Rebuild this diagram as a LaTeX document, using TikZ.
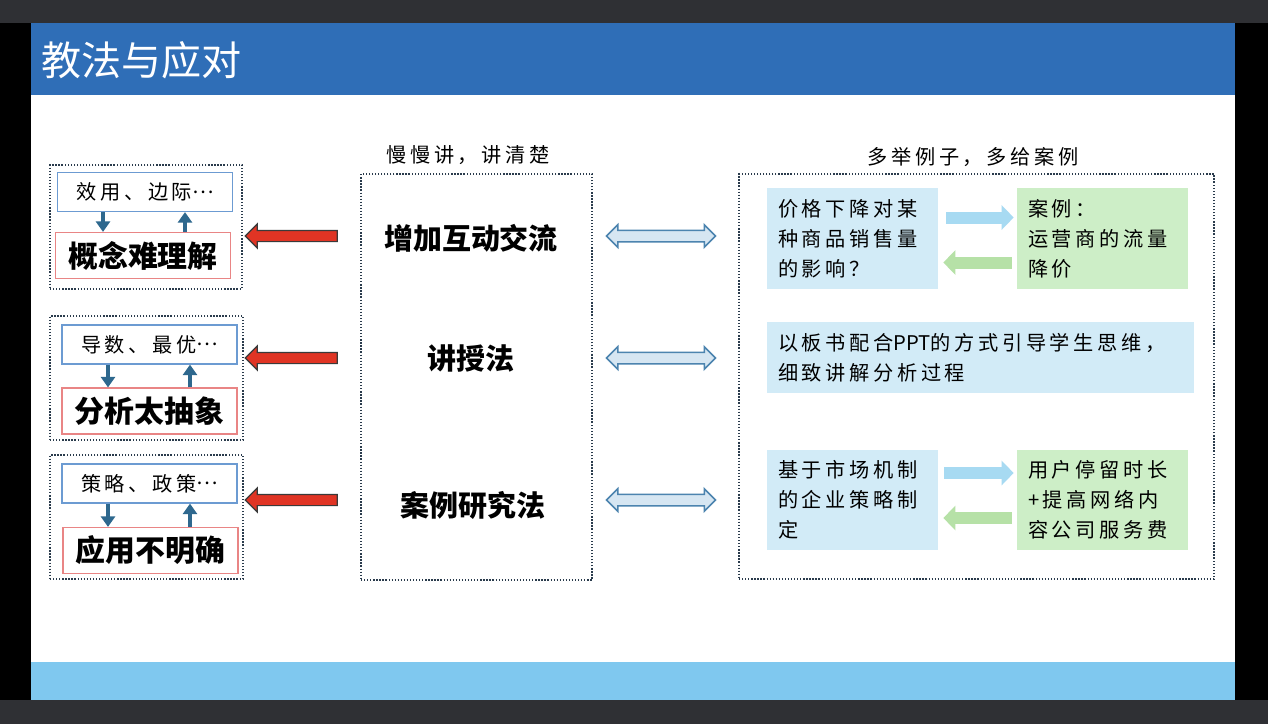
\documentclass[tikz,border=0pt]{standalone}
\usepackage{fontspec}
\usepackage{tikz}
\usetikzlibrary{arrows.meta,shapes.arrows}
\newfontfamily\cjk{Noto Sans CJK SC}
\newfontfamily\cjkwide[LetterSpace=18]{Noto Sans CJK SC}
\newlength\px
\setlength\px{0.02cm}
\newcommand\middots{\raisebox{0.32em}{…}}
\definecolor{framegray}{HTML}{2F3034}
\definecolor{titleblue}{HTML}{2F6EB7}
\definecolor{bandblue}{HTML}{7FC8EF}
\definecolor{dotline}{HTML}{2A3B4C}
\definecolor{termline}{HTML}{6C9BD2}
\definecolor{hardline}{HTML}{E98585}
\definecolor{stemblue}{HTML}{2E688E}
\definecolor{alertred}{HTML}{E03424}
\definecolor{arrowedge}{HTML}{3A3A3A}
\definecolor{dualfill}{HTML}{D6E6F2}
\definecolor{dualedge}{HTML}{4C84AF}
\definecolor{qblue}{HTML}{D2EBF7}
\definecolor{cgreen}{HTML}{CDEEC7}
\definecolor{pushblue}{HTML}{A7DAF2}
\definecolor{pullgreen}{HTML}{B6E1A7}

\begin{document}
\begin{tikzpicture}[x=0.02cm, y=-0.02cm, font=\cjk,
    grpbox/.style={draw=dotline, densely dotted, line width=1.3\px, inner sep=0pt},
    termbox/.style={draw=termline, line width=1.2\px, fill=white, minimum width=175\px, minimum height=39\px, inner sep=0pt, font=\cjkwide\fontsize{11.5}{14}\selectfont},
    hardbox/.style={draw=hardline, line width=1.2\px, fill=white, minimum width=175\px, minimum height=46\px, inner sep=0pt, font=\cjk\bfseries\fontsize{17}{20}\selectfont},
    stem/.style={draw=stemblue, line width=4\px, -{Triangle[length=6pt,width=8pt]}},
    notetext/.style={inner sep=0pt, font=\cjkwide\fontsize{11.5}{14}\selectfont},
    methodtext/.style={inner sep=0pt, font=\cjk\bfseries\fontsize{16.5}{20}\selectfont},
    redarrow/.style={single arrow, shape border rotate=180, draw=arrowedge, fill=alertred, line width=1.2\px, minimum height=92\px, inner sep=5\px, single arrow head extend=6.5\px},
    dualarrow/.style={double arrow, draw=dualedge, fill=dualfill, line width=1.5\px, minimum height=109\px, inner sep=5\px, double arrow head extend=5.5\px},
    casebox/.style={fill=#1, minimum width=171\px, minimum height=99\px, text width=149\px, inner sep=11\px, align=left, font=\cjkwide\fontsize{11.5}{17}\selectfont},
    push/.style={draw=pushblue, line width=12\px, -{Triangle[length=6.8pt,width=13.6pt]}},
    pull/.style={draw=pullgreen, line width=12\px, -{Triangle[length=6.8pt,width=13.6pt]}}]

    \fill[framegray] (0,0) rectangle (1268,724);
    \fill[black] (0,23) rectangle (1268,700);
    \fill[white] (31,23) rectangle (1235,700);
    \fill[titleblue] (31,23) rectangle (1235,95);
    \fill[bandblue] (31,662) rectangle (1235,700);
    \node[anchor=west, inner sep=0pt, text=white, font=\cjk\fontsize{22.8}{26}\selectfont] (title) at (41,60) {教法与应对};

    \node[grpbox, minimum width=192\px, minimum height=124\px] (g1) at (146,227) {};
    \node[termbox] (t1) at (145,192) {效用、边际\middots};
    \node[hardbox] (h1) at (143,255.5) {概念难理解};
    \draw[stem] ([xshift=-42\px]t1.south) -- ([xshift=-40\px]h1.north);
    \draw[stem] ([xshift=42\px]h1.north) -- ([xshift=40\px]t1.south);

    \node[grpbox, minimum width=193\px, minimum height=124\px] (g2) at (146.5,378) {};
    \node[termbox] (t2) at (149.5,344.5) {导数、最优\middots};
    \node[hardbox] (h2) at (149.5,411) {分析太抽象};
    \draw[stem] ([xshift=-41.5\px]t2.south) -- ([xshift=-41.5\px]h2.north);
    \draw[stem] ([xshift=40.5\px]h2.north) -- ([xshift=40.5\px]t2.south);

    \node[grpbox, minimum width=193\px, minimum height=124\px] (g3) at (146.5,517) {};
    \node[termbox] (t3) at (149.5,483.5) {策略、政策\middots};
    \node[hardbox] (h3) at (150.5,550.5) {应用不明确};
    \draw[stem] ([xshift=-41.5\px]t3.south) -- ([xshift=-42.5\px]h3.north);
    \draw[stem] ([xshift=39.5\px]h3.north) -- ([xshift=40.5\px]t3.south);

    \node[redarrow] (ra1) at (294,236) {};
    \node[redarrow] (ra2) at (294,358) {};
    \node[redarrow] (ra3) at (294,500) {};

    \node[grpbox, minimum width=231\px, minimum height=406\px] (mid) at (476.5,377) {};
    \node[notetext] (midnote) at (468,155) {慢慢讲，讲清楚};
    \node[methodtext] (m1) at (471,238) {增加互动交流};
    \node[methodtext] (m2) at (471,358) {讲授法};
    \node[methodtext] (m3) at (473,505) {案例研究法};

    \node[dualarrow] (da1) at (661,236) {};
    \node[dualarrow] (da2) at (661,358) {};
    \node[dualarrow] (da3) at (661,500) {};

    \node[grpbox, minimum width=475\px, minimum height=405\px] (side) at (976.5,376.5) {};
    \node[notetext] (sidenote) at (973,157) {多举例子，多给案例};

    \node[casebox=qblue] (q1) at (852.5,238.5) {价格下降对某\\种商品销售量\\的影响？};
    \node[casebox=cgreen] (c1) at (1102.5,238.5) {案例：\\运营商的流量\\降价};
    \draw[push, shorten <=8\px, shorten >=3\px] ([yshift=21\px]q1.east) -- ([yshift=21\px]c1.west);
    \draw[pull, shorten <=5\px, shorten >=5\px] ([yshift=-24\px]c1.west) -- ([yshift=-24\px]q1.east);

    \node[casebox=qblue, minimum width=427\px, minimum height=69\px, text width=405\px] (p2) at (980.5,357.5) {以板书配合{\cjk\fontsize{11.5}{17}\selectfont PPT}的方式引导学生思维，\\细致讲解分析过程};

    \node[casebox=qblue, minimum height=100\px] (q3) at (852.5,500) {基于市场机制\\的企业策略制\\定};
    \node[casebox=cgreen, minimum height=100\px] (c3) at (1102.5,500) {用户停留时长\\+提高网络内\\容公司服务费};
    \draw[push, shorten <=6\px, shorten >=3\px] ([yshift=27\px]q3.east) -- ([yshift=27\px]c3.west);
    \draw[pull, shorten <=5\px, shorten >=5\px] ([yshift=-18\px]c3.west) -- ([yshift=-18\px]q3.east);

\end{tikzpicture}
\end{document}
